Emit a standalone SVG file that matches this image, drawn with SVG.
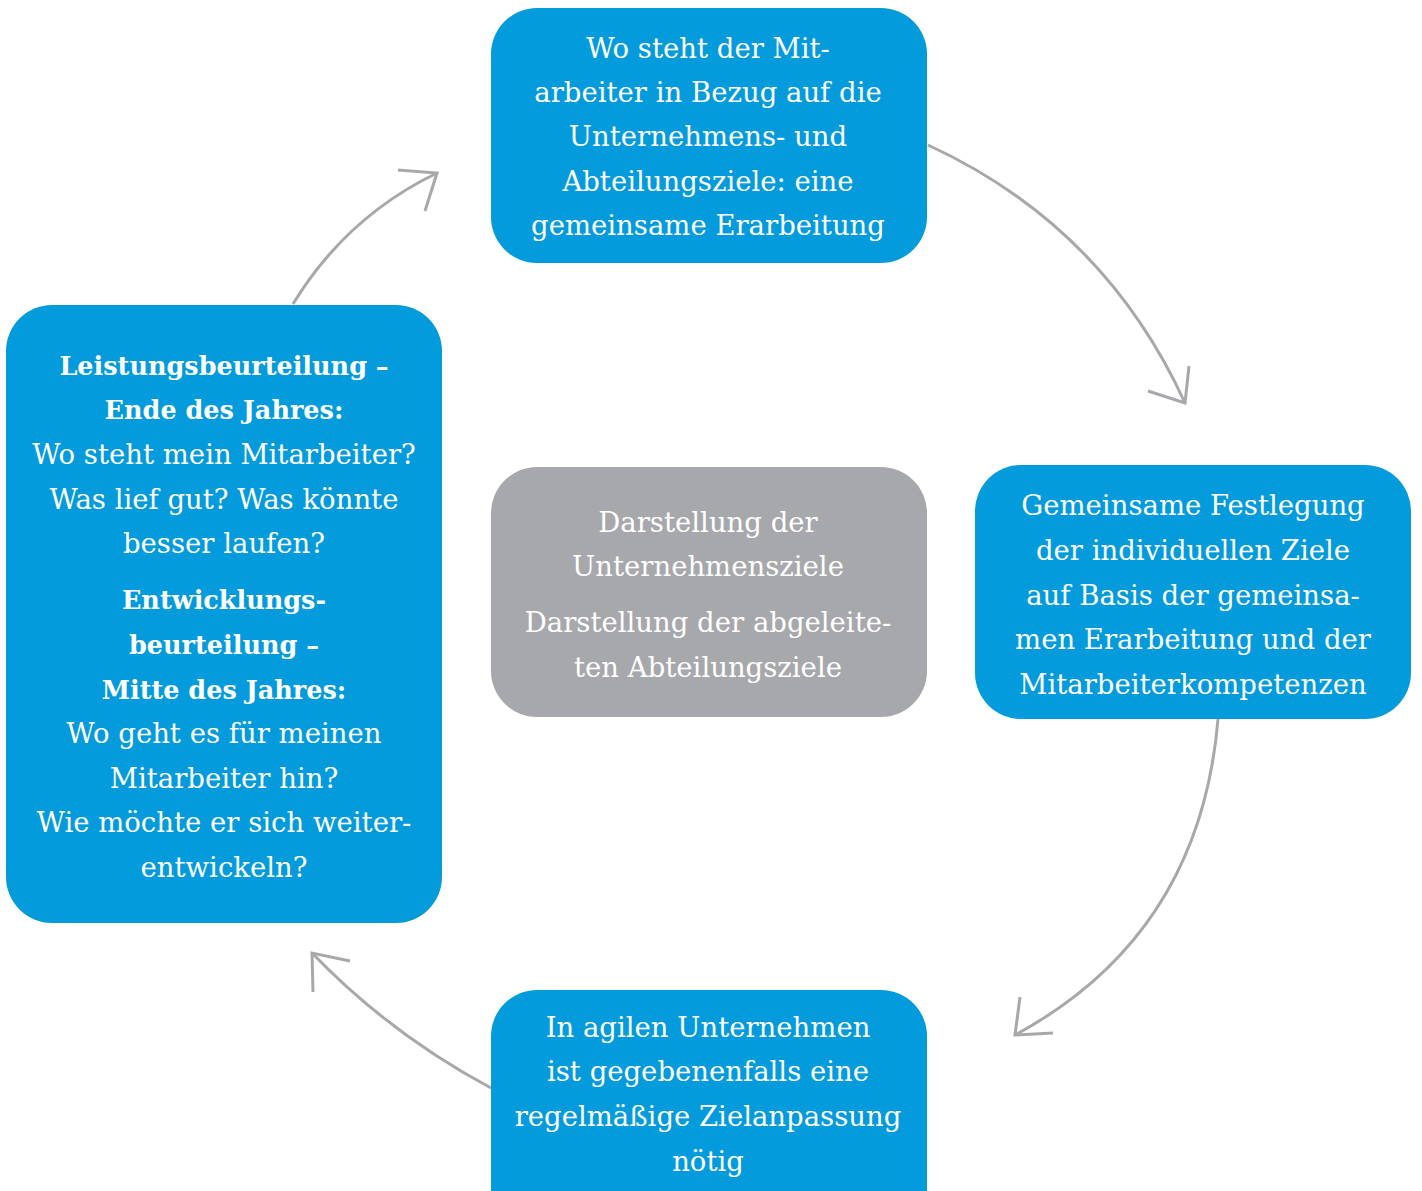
<svg xmlns="http://www.w3.org/2000/svg" width="1422" height="1191" viewBox="0 0 1422 1191">
<style>
.blue{fill:#039BDB}
.gray{fill:#A7A8AB}
text{font-family:"DejaVu Serif","Liberation Serif",serif;font-size:27.5px;fill:#fff;text-anchor:middle}
.b{font-weight:bold;font-size:25.5px}
.con path{fill:none;stroke:#A7A8AB;stroke-width:3;stroke-linecap:butt;stroke-linejoin:miter}
</style>
<rect width="1422" height="1191" fill="#fff"/>
<g class="con" id="connectors">
<path d="M293,304 Q346,217 437,173"/>
<path d="M398,170 L437,173 L425,211"/>
<path d="M928,145 Q1104,226 1185,403"/>
<path d="M1189,366 L1185,403 L1148,391"/>
<path d="M1218,719 Q1200,935 1015,1035"/>
<path d="M1020,997 L1015,1035 L1053,1033"/>
<path d="M491,1088 Q390,1034 312,953"/>
<path d="M313,992 L312,953 L350,961"/>
</g>
<g id="node-top">
<rect class="blue" x="491" y="8" width="436" height="255" rx="46"/>
<text x="708" y="58">Wo steht der Mit-</text>
<text x="708" y="102">arbeiter in Bezug auf die</text>
<text x="708" y="146">Unternehmens- und</text>
<text x="708" y="191">Abteilungsziele: eine</text>
<text x="708" y="235">gemeinsame Erarbeitung</text>
</g>
<g id="node-left">
<rect class="blue" x="6" y="305" width="436" height="618" rx="46"/>
<text class="b" x="224" y="375">Leistungsbeurteilung –</text>
<text class="b" x="224" y="419">Ende des Jahres:</text>
<text x="224" y="464">Wo steht mein Mitarbeiter?</text>
<text x="224" y="509">Was lief gut? Was könnte</text>
<text x="224" y="553">besser laufen?</text>
<text class="b" x="224" y="609">Entwicklungs-</text>
<text class="b" x="224" y="654">beurteilung –</text>
<text class="b" x="224" y="699">Mitte des Jahres:</text>
<text x="224" y="743">Wo geht es für meinen</text>
<text x="224" y="788">Mitarbeiter hin?</text>
<text x="224" y="832">Wie möchte er sich weiter-</text>
<text x="224" y="877">entwickeln?</text>
</g>
<g id="node-center">
<rect class="gray" x="491" y="467" width="436" height="250" rx="46"/>
<text x="708" y="532">Darstellung der</text>
<text x="708" y="576">Unternehmensziele</text>
<text x="708" y="632">Darstellung der abgeleite-</text>
<text x="708" y="677">ten Abteilungsziele</text>
</g>
<g id="node-right">
<rect class="blue" x="975" y="465" width="436" height="254" rx="46"/>
<text x="1193" y="515">Gemeinsame Festlegung</text>
<text x="1193" y="560">der individuellen Ziele</text>
<text x="1193" y="605">auf Basis der gemeinsa-</text>
<text x="1193" y="649">men Erarbeitung und der</text>
<text x="1193" y="694">Mitarbeiterkompetenzen</text>
</g>
<g id="node-bottom">
<rect class="blue" x="491" y="990" width="436" height="250" rx="46"/>
<text x="708" y="1037">In agilen Unternehmen</text>
<text x="708" y="1081">ist gegebenenfalls eine</text>
<text x="708" y="1126">regelmäßige Zielanpassung</text>
<text x="708" y="1171">nötig</text>
</g>
</svg>
